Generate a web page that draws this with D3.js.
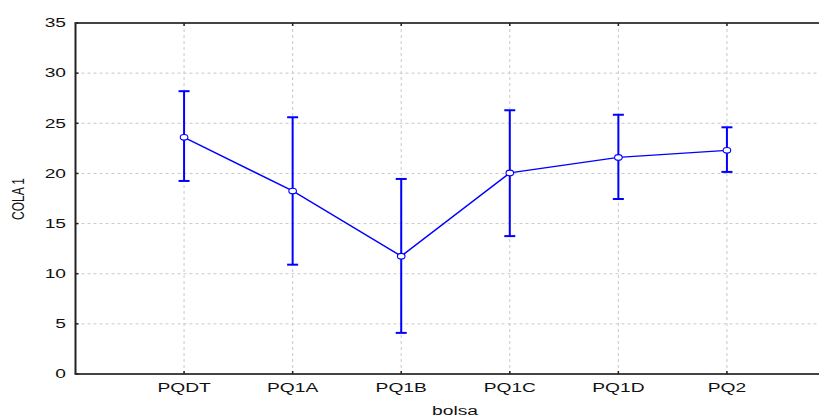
<!DOCTYPE html>
<html><head><meta charset="utf-8">
<script src="https://cdn.jsdelivr.net/npm/d3@7"></script>
<style>html,body{margin:0;padding:0;background:#fff;overflow:hidden}svg{display:block}</style>
</head><body>
<svg id="c" width="819" height="416"></svg>
<script>
const categories = ["PQDT","PQ1A","PQ1B","PQ1C","PQ1D","PQ2"];
const means = [23.6, 18.25, 11.75, 20.05, 21.6, 22.3];
const upper = [28.2, 25.6, 19.45, 26.3, 25.85, 24.6];
const lower = [19.25, 10.9, 4.1, 13.75, 17.45, 20.15];
const yTicks = [0,5,10,15,20,25,30,35];
const xTitle = "bolsa";
const yTitle = "COLA 1";

const svg = d3.select("#c");
const L = 75.5, R = 835.5, T = 23, B = 374;
const SX = 1.6;
const x = d3.scalePoint().domain(categories).range([L, R]).padding(1);
const y = d3.scaleLinear().domain([0,35]).range([B, T]);
const blue = "#0000ff";
const font = "'Liberation Sans', Arial, sans-serif";

// gridlines
svg.append("g").selectAll("line").data(yTicks.filter(d=>d>0 && d<35)).join("line")
  .attr("x1", L).attr("x2", R).attr("y1", d=>y(d)).attr("y2", d=>y(d))
  .attr("stroke", "#c8c8c8").attr("stroke-width", 1).attr("stroke-dasharray", "3,3");
svg.append("g").selectAll("line").data(categories).join("line")
  .attr("x1", d=>x(d)).attr("x2", d=>x(d)).attr("y1", T).attr("y2", B)
  .attr("stroke", "#c8c8c8").attr("stroke-width", 1).attr("stroke-dasharray", "3,3");

// frame
const axc = "#222";
svg.append("line").attr("x1",L).attr("x2",L).attr("y1",T).attr("y2",B).attr("stroke",axc).attr("stroke-width",2);
svg.append("line").attr("x1",L-1).attr("x2",R).attr("y1",T).attr("y2",T).attr("stroke","#444").attr("stroke-width",2);
svg.append("line").attr("x1",L-1).attr("x2",R).attr("y1",B).attr("y2",B).attr("stroke","#444").attr("stroke-width",2);

// ticks
svg.append("g").selectAll("line").data(categories).join("line")
  .attr("x1", d=>x(d)).attr("x2", d=>x(d)).attr("y1", B).attr("y2", B-3).attr("stroke", axc).attr("stroke-width",1.5);
svg.append("g").selectAll("line").data(categories).join("line")
  .attr("x1", d=>x(d)).attr("x2", d=>x(d)).attr("y1", T).attr("y2", T+3).attr("stroke", axc).attr("stroke-width",1.5);
svg.append("g").selectAll("line").data(yTicks).join("line")
  .attr("x1", L).attr("x2", L+3).attr("y1", d=>y(d)).attr("y2", d=>y(d)).attr("stroke", axc).attr("stroke-width",1.5);

// tick labels
svg.append("g").selectAll("text").data(yTicks).join("text")
  .attr("transform", d=>`translate(66,${y(d)+4.3}) scale(${SX},1)`)
  .attr("text-anchor","end").attr("font-family",font).attr("font-size",12).attr("fill","#111")
  .text(d=>d);
svg.append("g").selectAll("text").data(categories).join("text")
  .attr("transform", d=>`translate(${x(d)},392) scale(${SX},1)`)
  .attr("text-anchor","middle").attr("font-family",font).attr("font-size",12).attr("fill","#111")
  .text(d=>d);

// titles
svg.append("text").attr("transform", `translate(455,415) scale(${SX},1)`)
  .attr("text-anchor","middle").attr("font-family",font).attr("font-size",12).attr("fill","#111").text(xTitle);
svg.append("text").attr("transform", `translate(24,199) scale(1.4,1) rotate(-90)`)
  .attr("text-anchor","middle").attr("font-family",font).attr("font-size",12).attr("fill","#111")
  .attr("xml:space","preserve").style("white-space","pre").text(yTitle);

// error bars
const eb = svg.append("g").attr("stroke", blue).attr("stroke-width", 2).attr("fill","none");
categories.forEach((c,i)=>{
  eb.append("line").attr("x1",x(c)).attr("x2",x(c)).attr("y1",y(upper[i])).attr("y2",y(lower[i]));
  eb.append("line").attr("x1",x(c)-5.5).attr("x2",x(c)+5.5).attr("y1",y(upper[i])).attr("y2",y(upper[i]));
  eb.append("line").attr("x1",x(c)-5.5).attr("x2",x(c)+5.5).attr("y1",y(lower[i])).attr("y2",y(lower[i]));
});

// line
const line = d3.line().x((d,i)=>x(categories[i])).y(d=>y(d));
svg.append("path").datum(means).attr("d", line).attr("fill","none").attr("stroke",blue).attr("stroke-width",1.4);

// markers
svg.append("g").selectAll("ellipse").data(means).join("ellipse")
  .attr("cx",(d,i)=>x(categories[i])).attr("cy",d=>y(d)).attr("rx",3.8).attr("ry",2.8)
  .attr("fill","#fff").attr("stroke",blue).attr("stroke-width",1.1);
</script>
</body></html>
